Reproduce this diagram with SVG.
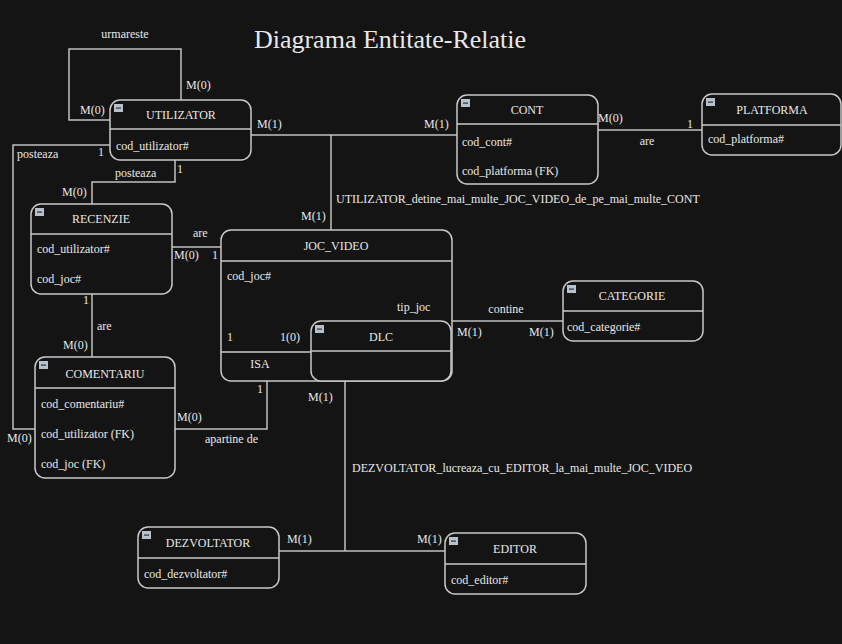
<svg xmlns="http://www.w3.org/2000/svg" width="842" height="644" viewBox="0 0 842 644">
<defs>
<style>
text{font-family:"Liberation Serif","Times New Roman",serif;fill:#e8e8e8;font-size:12px}
.t{text-anchor:middle}
.box{fill:#141414;stroke:#c8c8c8;stroke-width:1.5}
.dv{stroke:#c8c8c8;stroke-width:1.5}
.ln{fill:none;stroke:#c0c0c0;stroke-width:1.5}
.ic{fill:#b8c0cc}
.icb{fill:#30343a}
</style>
<g id="icon"><rect class="ic" x="0" y="0" width="9" height="8"/><rect class="icb" x="2" y="3.5" width="5" height="1.2"/></g>
</defs>
<rect width="842" height="644" fill="#141414"/>
<text x="390" y="48" class="t" style="font-size:26px">Diagrama Entitate-Relatie</text>

<g id="connectors">
<polyline class="ln" points="181,100 181,49 69,49 69,120 110,120"/>
<polyline class="ln" points="110,145 13,145 13,429 35,429"/>
<polyline class="ln" points="175,160 175,182 92,182 92,204"/>
<line class="ln" x1="172" y1="247" x2="221" y2="247"/>
<line class="ln" x1="92" y1="294" x2="92" y2="357"/>
<polyline class="ln" points="175,429 267,429 267,381"/>
<line class="ln" x1="251" y1="135" x2="457" y2="135"/>
<line class="ln" x1="331" y1="135" x2="331" y2="230"/>
<line class="ln" x1="598" y1="130" x2="702" y2="130"/>
<line class="ln" x1="452" y1="321" x2="563" y2="321"/>
<line class="ln" x1="345" y1="381" x2="345" y2="551"/>
<line class="ln" x1="279" y1="551" x2="445" y2="551"/>
</g>

<g id="labels">
<text x="125" y="38" class="t">urmareste</text>
<text x="186" y="89">M(0)</text>
<text x="80" y="114">M(0)</text>
<text x="17" y="158">posteaza</text>
<text x="98" y="156">1</text>
<text x="115" y="177">posteaza</text>
<text x="177" y="173">1</text>
<text x="62" y="196">M(0)</text>
<text x="193" y="237">are</text>
<text x="174" y="259">M(0)</text>
<text x="212" y="259">1</text>
<text x="83" y="304">1</text>
<text x="97" y="330">are</text>
<text x="63" y="349">M(0)</text>
<text x="7" y="442">M(0)</text>
<text x="177" y="421">M(0)</text>
<text x="205" y="443">apartine de</text>
<text x="257" y="393">1</text>
<text x="257" y="128">M(1)</text>
<text x="424" y="128">M(1)</text>
<text x="301" y="220">M(1)</text>
<text x="336" y="203">UTILIZATOR_detine_mai_multe_JOC_VIDEO_de_pe_mai_multe_CONT</text>
<text x="598" y="122">M(0)</text>
<text x="687" y="128">1</text>
<text x="647" y="145" class="t">are</text>
<text x="506" y="313" class="t">contine</text>
<text x="457" y="336">M(1)</text>
<text x="529" y="336">M(1)</text>
<text x="308" y="401">M(1)</text>
<text x="352" y="472">DEZVOLTATOR_lucreaza_cu_EDITOR_la_mai_multe_JOC_VIDEO</text>
<text x="287" y="543">M(1)</text>
<text x="417" y="543">M(1)</text>
</g>

<g id="UTILIZATOR">
<rect class="box" x="110" y="100" width="141" height="60" rx="10"/>
<line class="dv" x1="110" y1="129" x2="251" y2="129"/>
<use href="#icon" x="114" y="104"/>
<text x="181" y="119" class="t">UTILIZATOR</text>
<text x="116" y="150">cod_utilizator#</text>
</g>

<g id="CONT">
<rect class="box" x="457" y="95" width="141" height="89" rx="10"/>
<line class="dv" x1="457" y1="124" x2="598" y2="124"/>
<use href="#icon" x="461" y="99"/>
<text x="527" y="114" class="t">CONT</text>
<text x="462" y="146">cod_cont#</text>
<text x="462" y="175">cod_platforma (FK)</text>
</g>

<g id="PLATFORMA">
<rect class="box" x="702" y="94" width="139" height="61" rx="10"/>
<line class="dv" x1="702" y1="125" x2="841" y2="125"/>
<use href="#icon" x="706" y="98"/>
<text x="772" y="114" class="t">PLATFORMA</text>
<text x="708" y="143">cod_platforma#</text>
</g>

<g id="RECENZIE">
<rect class="box" x="31" y="204" width="141" height="90" rx="10"/>
<line class="dv" x1="31" y1="234" x2="172" y2="234"/>
<use href="#icon" x="35" y="208"/>
<text x="101" y="223" class="t">RECENZIE</text>
<text x="37" y="253">cod_utilizator#</text>
<text x="37" y="283">cod_joc#</text>
</g>

<g id="JOC_VIDEO">
<rect class="box" x="221" y="230" width="231" height="151" rx="10"/>
<line class="dv" x1="221" y1="261" x2="452" y2="261"/>
<text x="336" y="250" class="t">JOC_VIDEO</text>
<text x="227" y="280">cod_joc#</text>
<text x="397" y="311">tip_joc</text>
<line class="dv" x1="221" y1="352" x2="311" y2="352"/>
<text x="260" y="368" class="t">ISA</text>
<text x="227" y="341">1</text>
<text x="280" y="341">1(0)</text>
</g>

<g id="DLC">
<rect class="box" x="311" y="321" width="140" height="60" rx="10"/>
<line class="dv" x1="311" y1="351" x2="451" y2="351"/>
<use href="#icon" x="315" y="325"/>
<text x="381" y="341" class="t">DLC</text>
</g>

<g id="CATEGORIE">
<rect class="box" x="563" y="281" width="140" height="60" rx="10"/>
<line class="dv" x1="563" y1="311" x2="703" y2="311"/>
<use href="#icon" x="567" y="285"/>
<text x="632" y="300" class="t">CATEGORIE</text>
<text x="567" y="331">cod_categorie#</text>
</g>

<g id="COMENTARIU">
<rect class="box" x="35" y="357" width="140" height="121" rx="10"/>
<line class="dv" x1="35" y1="388" x2="175" y2="388"/>
<use href="#icon" x="39" y="361"/>
<text x="105" y="378" class="t">COMENTARIU</text>
<text x="41" y="408">cod_comentariu#</text>
<text x="41" y="438">cod_utilizator (FK)</text>
<text x="41" y="468">cod_joc (FK)</text>
</g>

<g id="DEZVOLTATOR">
<rect class="box" x="138" y="527" width="141" height="61" rx="10"/>
<line class="dv" x1="138" y1="558" x2="279" y2="558"/>
<use href="#icon" x="142" y="531"/>
<text x="208" y="547" class="t">DEZVOLTATOR</text>
<text x="144" y="578">cod_dezvoltator#</text>
</g>

<g id="EDITOR">
<rect class="box" x="445" y="533" width="141" height="61" rx="10"/>
<line class="dv" x1="445" y1="564" x2="586" y2="564"/>
<use href="#icon" x="449" y="537"/>
<text x="515" y="553" class="t">EDITOR</text>
<text x="451" y="584">cod_editor#</text>
</g>
</svg>
